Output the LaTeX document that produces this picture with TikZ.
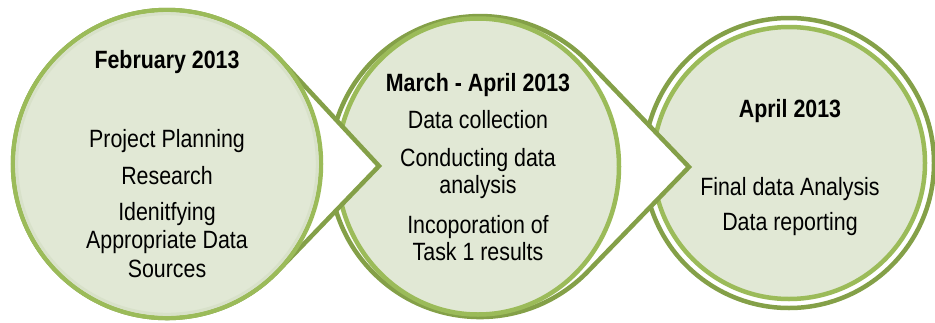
\documentclass[tikz,border=0pt]{standalone}
\usepackage{fontspec}
\newfontfamily\lblfont{Liberation Sans}[FakeStretch=0.855]
\definecolor{ringlight}{HTML}{9BBB59}
\definecolor{ringdark}{HTML}{84A048}
\definecolor{discfill}{HTML}{E1E8D5}
\definecolor{discband}{HTML}{D8E1C9}
\begin{document}
\begin{tikzpicture}[x=1pt,y=-1pt,
  txt/.style={font=\lblfont\fontsize{25}{28}\selectfont, inner sep=0pt, anchor=base},
  head/.style={font=\lblfont\bfseries\fontsize{25}{28}\selectfont, inner sep=0pt, anchor=base},
  darkring/.style={draw=ringdark, line width=4.5pt, fill=white, line join=miter},
  lightring/.style={draw=ringlight, line width=4.5pt, fill=discfill}]
\useasboundingbox (0,0) rectangle (935,322);
% stage 3
\draw[darkring] (789,163) circle[radius=145];
\draw[lightring] (789,163) circle[radius=136];
% stage 2
\draw[darkring] (588.4,62.2) -- (689,167) -- (588.4,270.9)
  arc[start angle=43.9, end angle=316.1, radius=150.5] -- cycle;
\draw[lightring] (478,166.5) ellipse[x radius=141, y radius=148];
% stage 1
\draw[darkring] (279.9,59.2) -- (379,166) -- (277.9,270.9)
  arc[start angle=43.95, end angle=317.13, radius=154] -- cycle;
\draw[lightring] (167,164) circle[radius=154];
\draw[discband, line width=3pt] (167,164) circle[radius=150.3];
% texts stage 1
\node[head] (s1h) at (167,68) {February 2013};
\node[txt] (s1a) at (167,147) {Project Planning};
\node[txt] (s1b) at (167,184) {Research};
\node[txt] (s1c) at (167,220) {Idenitfying};
\node[txt] (s1d) at (167,248) {Appropriate Data};
\node[txt] (s1e) at (167,277) {Sources};
% texts stage 2
\node[head] (s2h) at (478,91) {March - April 2013};
\node[txt] (s2a) at (478,128) {Data collection};
\node[txt] (s2b) at (478,166) {Conducting data};
\node[txt] (s2c) at (478,193) {analysis};
\node[txt] (s2d) at (478,233) {Incoporation of};
\node[txt] (s2e) at (478,260) {Task 1 results};
% texts stage 3
\node[head] (s3h) at (790,117) {April 2013};
\node[txt] (s3a) at (790,195) {Final data Analysis};
\node[txt] (s3b) at (790,230) {Data reporting};
\end{tikzpicture}
\end{document}
